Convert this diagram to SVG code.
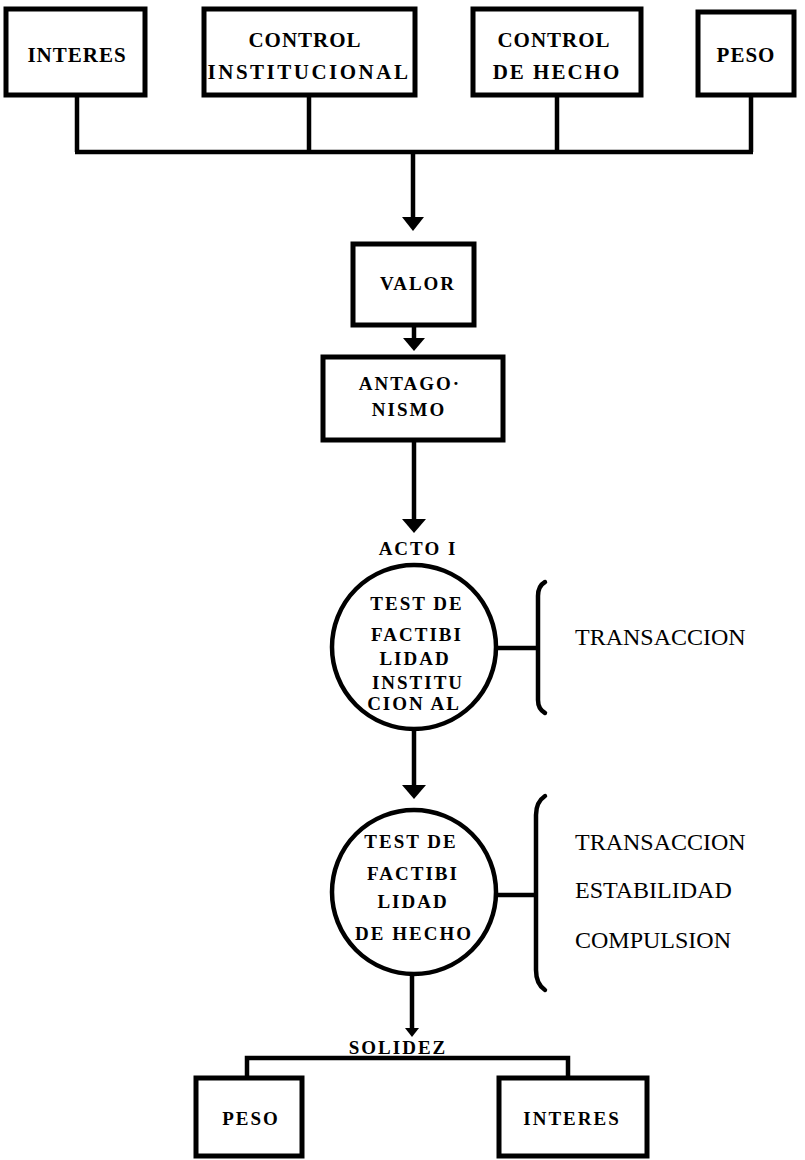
<svg xmlns="http://www.w3.org/2000/svg" width="805" height="1160" viewBox="0 0 805 1160">
<style>
.box{fill:#fff;stroke:#000;stroke-width:5}
.circ{fill:#fff;stroke:#000;stroke-width:4.5}
.ln{fill:none;stroke:#000;stroke-width:4.5}
.br{fill:none;stroke:#000;stroke-width:4.5;stroke-linecap:round}
.ah{fill:#000}
.b{font-family:"Liberation Serif","Times New Roman",serif;font-weight:bold;font-size:21px;fill:#000;text-anchor:middle;letter-spacing:1px}
.c{font-family:"Liberation Serif","Times New Roman",serif;font-weight:bold;font-size:19px;fill:#000;text-anchor:middle;letter-spacing:2px}
.r{font-family:"Liberation Serif","Times New Roman",serif;font-size:24px;fill:#000}
</style>
<rect width="805" height="1160" fill="#fff"/>
<g id="connectors">
<path class="ln" d="M77 95V152M309 95V152M557 95V152M751 95V152M75 152H753M413 152V220"/>
<polygon class="ah" points="402,217 424,217 413,231"/>
<path class="ln" d="M414 325V342"/>
<polygon class="ah" points="403,338 425,338 414,351"/>
<path class="ln" d="M414 440V522"/>
<polygon class="ah" points="402,519 426,519 414,533"/>
<path class="ln" d="M414 729V788"/>
<polygon class="ah" points="402,785 426,785 414,799"/>
<path class="ln" d="M498 648H536"/>
<path class="ln" d="M498 895H534"/>
<path class="ln" d="M412 975V1030"/>
<polygon class="ah" points="405,1028 419,1028 412,1037"/>
<path class="ln" d="M247 1077V1058H568V1077"/>
</g>
<g id="interes-top"><rect class="box" x="6" y="9" width="139" height="86"/><text class="b" x="77" y="62">INTERES</text></g>
<g id="control-institucional"><rect class="box" x="204" y="9" width="211" height="86"/><text class="b" x="305" y="47">CONTROL</text><text class="b" x="309" y="79" style="letter-spacing:2.5px">INSTITUCIONAL</text></g>
<g id="control-de-hecho"><rect class="box" x="473" y="9" width="168" height="86"/><text class="b" x="554" y="47">CONTROL</text><text class="b" x="557" y="79" style="letter-spacing:2px">DE HECHO</text></g>
<g id="peso-top"><rect class="box" x="698" y="12" width="96" height="83"/><text class="b" x="746" y="62">PESO</text></g>
<g id="valor"><rect class="box" x="353" y="244" width="121" height="81"/><text class="c" x="418" y="290">VALOR</text></g>
<g id="antagonismo"><rect class="box" x="323" y="357" width="180" height="83"/><text class="c" x="410" y="390">ANTAGO·</text><text class="c" x="409" y="416">NISMO</text></g>
<g id="acto"><text class="c" x="418" y="555">ACTO  I</text></g>
<g id="test-institucional"><circle class="circ" cx="414" cy="647" r="82"/>
<text class="c" x="417" y="610">TEST DE</text><text class="c" x="417" y="641">FACTIBI</text><text class="c" x="415" y="665">LIDAD</text><text class="c" x="418" y="689">INSTITU</text><text class="c" x="414" y="710">CION AL</text></g>
<g id="bracket-1"><path class="br" d="M545 582Q538 586 538 596V700Q538 709 545 713"/><text class="r" x="575" y="645">TRANSACCION</text></g>
<g id="test-hecho"><circle class="circ" cx="414" cy="892" r="82"/>
<text class="c" x="411" y="848">TEST DE</text><text class="c" x="413" y="880">FACTIBI</text><text class="c" x="413" y="908">LIDAD</text><text class="c" x="414" y="940">DE HECHO</text></g>
<g id="bracket-2"><path class="br" d="M545 796Q536 802 536 815V970Q536 984 545 990"/><text class="r" x="575" y="850">TRANSACCION</text><text class="r" x="575" y="898">ESTABILIDAD</text><text class="r" x="575" y="948">COMPULSION</text></g>
<g id="solidez"><text class="c" x="398" y="1054">SOLIDEZ</text></g>
<g id="peso-bottom"><rect class="box" x="196" y="1078" width="106" height="78"/><text class="c" x="251" y="1125">PESO</text></g>
<g id="interes-bottom"><rect class="box" x="499" y="1078" width="148" height="78"/><text class="c" x="572" y="1125">INTERES</text></g>
</svg>
